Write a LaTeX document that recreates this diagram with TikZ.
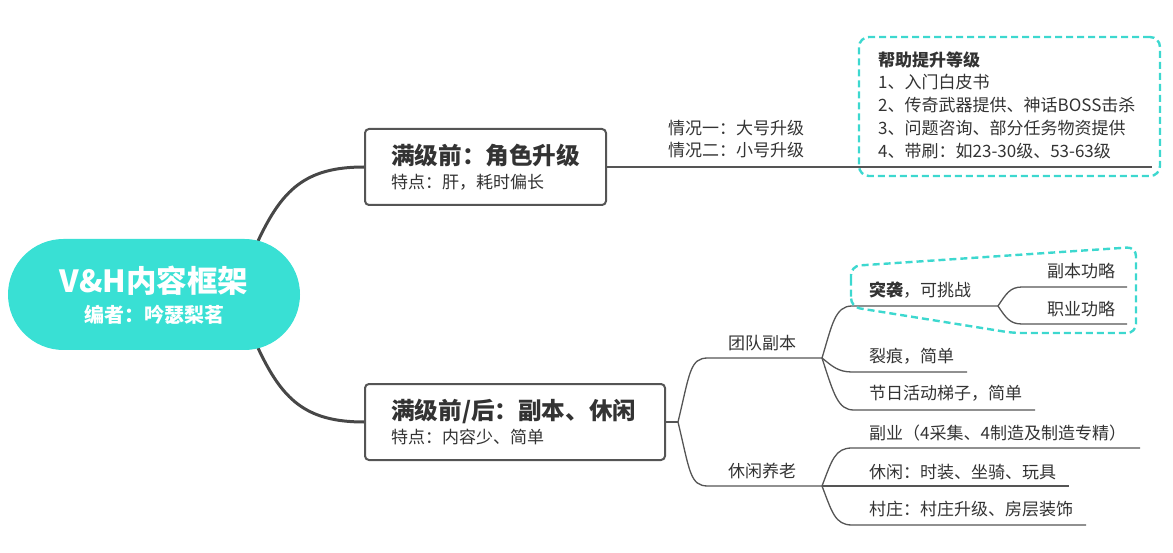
\documentclass[tikz,border=0pt]{standalone}
\usepackage{fontspec}
\setmainfont{Noto Sans CJK SC}
\definecolor{teal1}{HTML}{39E0D4}
\definecolor{dashc}{HTML}{3DD8CF}
\definecolor{txt}{HTML}{333333}
\definecolor{lnc}{HTML}{555555}
\definecolor{thick}{HTML}{474747}
\tikzset{
  pill/.style={fill=teal1, draw=none, rounded corners=55.5pt, minimum width=292pt, minimum height=111pt, inner sep=0pt},
  topicbox/.style={draw=lnc, line width=2pt, rounded corners=4pt, fill=white, inner sep=0pt},
  dashbox/.style={draw=dashc, line width=2.4pt, dash pattern=on 7pt off 4pt, rounded corners=10pt, inner sep=0pt},
  dashline/.style={draw=dashc, line width=2.4pt, dash pattern=on 7pt off 4pt, rounded corners=9pt},
  tx/.style={inner sep=0pt, text=txt, font=\fontsize{17}{20}\selectfont, anchor=base west},
  txc/.style={tx, anchor=base},
  ttl/.style={inner sep=0pt, text=txt, font=\fontsize{23.6}{27}\selectfont\bfseries, anchor=base west},
  mainline/.style={draw=thick, line width=3pt},
  branch/.style={draw=lnc, line width=1.3pt},
}
\begin{document}
\begin{tikzpicture}[x=1pt,y=-1pt]
\useasboundingbox (0,0) rectangle (1173,553);

% central curves
\coordinate (r1) at (258,241);
\coordinate (r2) at (258,348);

\node[topicbox, minimum width=241pt, minimum height=76pt] (box1) at (485.5,167) {};
\node[topicbox, minimum width=300pt, minimum height=76pt] (box2) at (515,422) {};

\draw[mainline] (r1) .. controls (282,190) and (305,167) .. (box1.west);
\draw[mainline] (r2) .. controls (282,399) and (305,422) .. (box2.west);

\node[pill] (root) at (154,294.5) {};
\node[inner sep=0pt, text=white, font=\fontsize{30.5}{33}\selectfont\bfseries, anchor=base] (rootT) at (154,292.5) {V\&H内容框架};
\node[inner sep=0pt, text=white, font=\fontsize{20}{24}\selectfont\bfseries, anchor=base] (rootS) at (154,322.6) {编者：吟瑟梨茗};

% box1 texts
\node[ttl] (b1t) at (391,164.5) {满级前：角色升级};
\node[tx] (b1s) at (391,189) {特点：肝，耗时偏长};
% box2 texts
\node[ttl] (b2t) at (391,419.5) {满级前/后：副本、休闲};
\node[tx] (b2s) at (391,443.5) {特点：内容少、简单};

% top branch
\coordinate (e1) at (1152,167);
\draw[branch] (box1.east) -- (e1);
\node[tx] (q1) at (668,134.5) {情况一：大号升级};
\node[tx] (q2) at (668,156.5) {情况二：小号升级};

\node[dashbox, minimum width=301pt, minimum height=139pt] (help) at (1009.5,106.5) {};
\node[tx, font=\fontsize{17}{20}\selectfont\bfseries] (h0) at (878,66.5) {帮助提升等级};
\node[tx] (h1) at (878,88.5) {1、入门白皮书};
\node[tx] (h2) at (878,111.5) {2、传奇武器提供、神话BOSS击杀};
\node[tx] (h3) at (878,134.5) {3、问题咨询、部分任务物资提供};
\node[tx] (h4) at (878,157.5) {4、带刷：如23-30级、53-63级};

% bottom tree
\coordinate (j2) at (678,422);
\coordinate (tb) at (822,358);
\coordinate (xb) at (822,486);
\draw[branch] (box2.east) -- (j2);
\draw[branch] (j2) .. controls (690,372) and (690,358) .. (708,358) -- (tb);
\draw[branch] (j2) .. controls (690,472) and (690,486) .. (708,486) -- (xb);
\node[txc] (tdfb) at (762,349.5) {团队副本};
\node[txc] (xxyl) at (762,477.5) {休闲养老};

\coordinate (tx1) at (998,306);
\coordinate (tx2) at (967,372);
\coordinate (tx3) at (1035,410);
\draw[branch] (tb) .. controls (832,325) and (835,306) .. (852,306) -- (tx1);
\draw[branch] (tb) .. controls (832,366) and (838,372) .. (852,372) -- (tx2);
\draw[branch] (tb) .. controls (834,395) and (838,410) .. (854,410) -- (tx3);
\node[tx] (tuxi) at (869,296.5) {{\bfseries 突袭}，可挑战};
\node[tx] (liehen) at (869,362.5) {裂痕，简单};
\node[tx] (jieri) at (869,399.5) {节日活动梯子，简单};

\coordinate (g1) at (1127,287);
\coordinate (g2) at (1127,324);
\draw[branch] (tx1) .. controls (1006,294) and (1010,287) .. (1022,287) -- (g1);
\draw[branch] (tx1) .. controls (1006,318) and (1010,324) .. (1022,324) -- (g2);
\node[tx] (fbgl) at (1047,277.5) {副本功略};
\node[tx] (zygl) at (1047,315.5) {职业功略};

\draw[dashline] (851,290) -- (851,266) -- (1136,247) -- (1136,333) -- (1013,333) -- (851,307) -- cycle;

\coordinate (y1) at (1140,448);
\coordinate (y2) at (1069,486);
\coordinate (y3) at (1086,525);
\draw[branch] (xb) .. controls (832,460) and (835,448) .. (852,448) -- (y1);
\draw[branch] (xb) -- (y2);
\draw[branch] (xb) .. controls (832,512) and (835,525) .. (852,525) -- (y3);
\node[tx] (fuye) at (869,439.5) {副业（4采集、4制造及制造专精）};
\node[tx] (xiuxian) at (869,478.5) {休闲：时装、坐骑、玩具};
\node[tx] (cunzhuang) at (869,515.5) {村庄：村庄升级、房层装饰};
\end{tikzpicture}
\end{document}
